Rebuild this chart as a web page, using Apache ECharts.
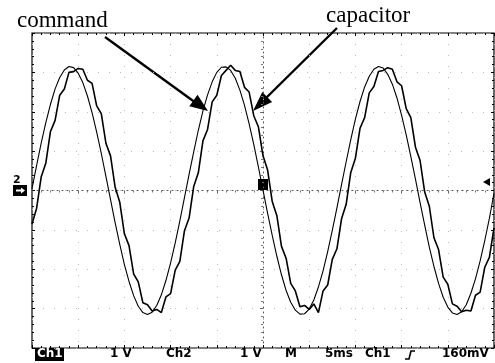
<!DOCTYPE html>
<html><head><meta charset="utf-8">
<script src="https://cdn.jsdelivr.net/npm/echarts@6/dist/echarts.min.js"></script>
<style>html,body{margin:0;padding:0;background:#fff}#c{width:495px;height:363px}</style>
</head><body><div id="c"></div>
<script>
// time in ms relative to trigger (5 ms/div, 10 divisions)
const timeMs = [-25,-24.5,-24,-23.5,-23,-22.5,-22,-21.5,-21,-20.5,-20,-19.5,-19,-18.5,-18,-17.5,-17,-16.5,-16,-15.5,-15,-14.5,-14,-13.5,-13,-12.5,-12,-11.5,-11,-10.5,-10,-9.5,-9,-8.5,-8,-7.5,-7,-6.5,-6,-5.5,-5,-4.5,-4,-3.5,-3,-2.5,-2,-1.5,-1,-0.5,0,0.5,1,1.5,2,2.5,3,3.5,4,4.5,5,5.5,6,6.5,7,7.5,8,8.5,9,9.5,10,10.5,11,11.5,12,12.5,13,13.5,14,14.5,15,15.5,16,16.5,17,17.5,18,18.5,19,19.5,20,20.5,21,21.5,22,22.5,23,23.5,24,24.5,25];
// Ch1 command (V, 1 V/div)
const command = [0.05,0.64,1.21,1.73,2.19,2.58,2.87,3.06,3.15,3.12,
 2.98,2.74,2.40,1.98,1.48,0.94,0.36,-0.23,-0.82,-1.37,
 -1.88,-2.31,-2.67,-2.94,-3.10,-3.15,-3.09,-2.92,-2.65,-2.28,
 -1.84,-1.33,-0.77,-0.18,0.41,0.98,1.53,2.02,2.43,2.76,
 3.00,3.13,3.14,3.05,2.85,2.55,2.16,1.69,1.17,0.60,
 0.01,-0.58,-1.14,-1.67,-2.14,-2.54,-2.84,-3.04,-3.14,-3.13,
 -3.01,-2.78,-2.45,-2.04,-1.55,-1.01,-0.44,0.15,0.73,1.29,
 1.81,2.26,2.63,2.90,3.08,3.15,3.11,2.95,2.70,2.35,
 1.91,1.41,0.86,0.29,-0.31,-0.88,-1.44,-1.93,-2.36,-2.71,
 -2.96,-3.11,-3.15,-3.08,-2.90,-2.61,-2.24,-1.79,-1.27,-0.71,
 -0.07];
// Ch2 capacitor (V, 1 V/div), noisy
const capacitor = [-0.85,-0.45,0.35,0.70,1.50,1.78,2.42,2.58,3.00,3.02,
 3.10,3.08,2.80,2.72,2.15,1.95,1.20,0.88,0.08,-0.30,
 -1.10,-1.40,-2.12,-2.32,-2.85,-2.90,-3.06,-3.02,-3.10,-2.70,
 -2.62,-2.02,-1.80,-1.02,-0.70,0.10,0.45,1.26,1.55,2.25,
 2.42,2.92,3.05,3.18,3.05,3.02,2.62,2.50,1.90,1.62,
 0.88,0.52,-0.28,-0.64,-1.42,-1.72,-2.36,-2.55,-2.95,-2.92,
 -3.02,-2.88,-3.10,-2.55,-2.40,-1.75,-1.48,-0.72,-0.35,0.46,
 0.82,1.58,1.85,2.48,2.64,3.02,3.05,3.12,3.08,2.76,
 2.66,2.08,1.85,1.10,0.76,-0.04,-0.40,-1.20,-1.50,-2.20,
 -2.38,-2.88,-2.94,-3.08,-3.04,-3.06,-2.66,-2.58,-1.95,-1.70,
 -0.95];
const statusTexts = ['1 V','Ch2','1 V','M','5ms','Ch1','160mV'];

const chart = echarts.init(document.getElementById('c'), null, {renderer:'canvas'});
const frameTick = {show:true, inside:true, length:3, lineStyle:{color:'#000', width:1}};
const frameMinor = {show:true, splitNumber:5, length:2, lineStyle:{color:'#000', width:1}};
const frameAxis = (pos, isX) => Object.assign({
  type:'value', position:pos, min: isX ? -25 : -4, max: isX ? 25 : 4, interval: isX ? 5 : 1,
  axisLine:{show:false, onZero:false}, axisTick:frameTick, minorTick:frameMinor,
  axisLabel:{show:false}, splitLine:{show:false}
});
const grid = {show:true, left:32, right:1, top:33, bottom:15, borderColor:'#000', borderWidth:1.2};
const serif = '"Liberation Serif","DejaVu Serif",serif';
const sans = 'bold 12px "DejaVu Sans"';
const statusX = [110,166,240,285,325,365,442];
const graphic = [
  {type:'text', x:17, y:9, style:{text:'command', font:'23px '+serif, fill:'#000'}},
  {type:'text', x:326, y:4, style:{text:'capacitor', font:'23px '+serif, fill:'#000'}},
  {type:'line', shape:{x1:105,y1:37,x2:196,y2:103}, style:{stroke:'#000', lineWidth:2.4}},
  {type:'polygon', shape:{points:[[208,111],[189.3,106.2],[197.5,94.8]]}, style:{fill:'#000'}},
  {type:'line', shape:{x1:337,y1:28,x2:265,y2:99}, style:{stroke:'#000', lineWidth:2.4}},
  {type:'polygon', shape:{points:[[253,111],[262.3,91.9],[272.1,101.9]]}, style:{fill:'#000'}},
  {type:'rect', shape:{x:35,y:348,width:29,height:13}, style:{fill:'#000'}},
  {type:'text', x:37, y:348, style:{text:'Ch1', font:sans, fill:'#fff'}},
  {type:'polyline', shape:{points:[[405,359],[409,359],[411,351],[415,351]]}, style:{stroke:'#000', lineWidth:1.6, fill:null}},
  {type:'text', x:13, y:175, style:{text:'2', font:'bold 11px "DejaVu Sans"', fill:'#000'}},
  {type:'rect', shape:{x:13,y:185,width:14,height:11}, style:{fill:'#000'}},
  {type:'polygon', shape:{points:[[16,189.5],[21,189.5],[21,187.5],[25,190.5],[21,193.5],[21,191.5],[16,191.5]]}, style:{fill:'#fff'}},
  {type:'polygon', shape:{points:[[483,182],[490,178],[490,186]]}, style:{fill:'#000'}},
  {type:'rect', shape:{x:258,y:179,width:10,height:11}, style:{fill:'#000'}}
];
statusTexts.forEach((t,i)=>graphic.push({type:'text', x:statusX[i], y:348, style:{text:t, font:sans, fill:'#000'}}));

chart.setOption({
  animation:false,
  backgroundColor:'#fff',
  grid: grid,
  xAxis:[
    {type:'value', min:-25, max:25, interval:5,
     axisLine:{show:true, onZero:true, lineStyle:{color:'#555', type:[1,4], width:1}},
     axisTick:{show:true, length:3, lineStyle:{color:'#666'}},
     minorTick:{show:true, splitNumber:5, length:2, lineStyle:{color:'#777'}},
     axisLabel:{show:false},
     splitLine:{show:true, lineStyle:{color:'#bbb', type:[1,10], width:1}}},
    frameAxis('top', true),
    frameAxis('bottom', true)
  ],
  yAxis:[
    {type:'value', min:-4, max:4, interval:1,
     axisLine:{show:true, onZero:true, lineStyle:{color:'#555', type:[1,4], width:1}},
     axisTick:{show:true, length:3, lineStyle:{color:'#666'}},
     minorTick:{show:true, splitNumber:5, length:2, lineStyle:{color:'#777'}},
     axisLabel:{show:false},
     splitLine:{show:true, lineStyle:{color:'#bbb', type:[1,10], width:1}}},
    frameAxis('left', false),
    frameAxis('right', false)
  ],
  series:[
    {name:'command', type:'line', data: command.map((v,i)=>[timeMs[i], v]), showSymbol:false, symbol:'none',
     lineStyle:{color:'#000', width:1.1}, smooth:false, z:3},
    {name:'capacitor', type:'line', data: capacitor.map((v,i)=>[timeMs[i], v]), showSymbol:false, symbol:'none',
     lineStyle:{color:'#000', width:1.6}, smooth:false, z:4}
  ],
  graphic: graphic
});
</script></body></html>
